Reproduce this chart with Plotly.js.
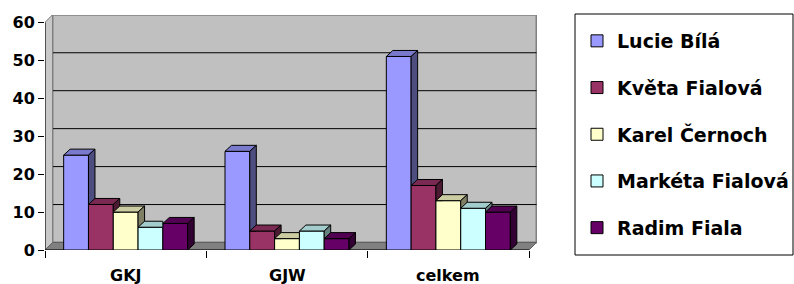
<!DOCTYPE html>
<html><head><meta charset="utf-8">
<script src="https://cdn.plot.ly/plotly-3.0.1.min.js"></script>
<style>html,body{margin:0;padding:0;background:#fff}#chart{width:794px;height:284px}</style>
</head><body><div id="chart"></div>
<script>
// ---------- data ----------
const categories = ['GKJ', 'GJW', 'celkem'];
const seriesNames = ['Lucie Bílá', 'Květa Fialová', 'Karel Černoch', 'Markéta Fialová', 'Radim Fiala'];
const lucieBila = [25, 26, 51];
const kvetaFialova = [12, 5, 17];
const karelCernoch = [10, 3, 13];
const marketaFialova = [6, 5, 11];
const radimFiala = [7, 3, 10];
const yTickVals = [0, 10, 20, 30, 40, 50, 60];

// ---------- style / geometry ----------
const seriesValues = [lucieBila, kvetaFialova, karelCernoch, marketaFialova, radimFiala];
const seriesColors = ['#9999FF', '#993366', '#FFFFCC', '#CCFFFF', '#660066'];
const PLOT_L = 45, PLOT_R = 537, PLOT_T = 15, PLOT_B = 250, FIG_W = 794, FIG_H = 284;
const CAT_PX = (529 - 45) / 3;
const Y_PX = (250 - 22.3) / 60;
const X_MIN = -0.5, X_MAX = X_MIN + (PLOT_R - PLOT_L) / CAT_PX;
const Y_MAX = (PLOT_B - PLOT_T) / Y_PX;
const WALL_DX = 7.5 / CAT_PX, WALL_DY = 7.5 / Y_PX;
const BAR_DX = 6.5 / CAT_PX, BAR_DY = 6 / Y_PX;
const BAR_W = 24.8 / CAT_PX;
const nCat = categories.length;
const AX_END = nCat - 0.5;
const FONT = {family: 'DejaVu Sans', size: 16, color: '#000', weight: 'bold'};

function shade(hex, f) {
  const n = parseInt(hex.slice(1), 16);
  const r = Math.round(((n >> 16) & 255) * f), g = Math.round(((n >> 8) & 255) * f), b = Math.round((n & 255) * f);
  return 'rgb(' + r + ',' + g + ',' + b + ')';
}
function clipHalf(poly, test, cut) {
  const out = [];
  for (let i = 0; i < poly.length; i++) {
    const a = poly[i], b = poly[(i + 1) % poly.length];
    const ain = test(a), bin = test(b);
    if (ain) out.push(a);
    if (ain !== bin) out.push(cut(a, b));
  }
  return out;
}
function clipYAbove(poly, y0) {
  return clipHalf(poly, p => p[1] >= y0, (a, b) => { const t = (y0 - a[1]) / (b[1] - a[1]); return [a[0] + t * (b[0] - a[0]), y0]; });
}
function clipXLeft(poly, x0) {
  return clipHalf(poly, p => p[0] <= x0, (a, b) => { const t = (x0 - a[0]) / (b[0] - a[0]); return [x0, a[1] + t * (b[1] - a[1])]; });
}
function faceTrace(poly, color) {
  const xs = poly.map(p => p[0]), ys = poly.map(p => p[1]);
  xs.push(xs[0]); ys.push(ys[0]);
  return {type: 'scatter', x: xs, y: ys, mode: 'lines', fill: 'toself', fillcolor: color,
    line: {color: '#000', width: 1}, hoverinfo: 'skip', showlegend: false};
}

const traces = [];
const catIdx = categories.map((_, k) => k);
seriesValues.forEach((vals, i) => {
  traces.push({
    type: 'bar', name: seriesNames[i], x: catIdx, y: vals,
    width: BAR_W, offset: -2.5 * BAR_W + i * BAR_W,
    marker: {color: seriesColors[i], line: {color: '#000', width: 1}},
    legendgroup: 'g' + i, hoverinfo: 'skip'
  });
});
// 3D faces (top + side), drawn left to right so nearer bars cover farther ones
catIdx.forEach(c => {
  seriesValues.forEach((vals, i) => {
    const h = vals[c];
    const L = c - 2.5 * BAR_W + i * BAR_W, R = L + BAR_W;
    const hasNext = i < seriesValues.length - 1;
    const hn = hasNext ? seriesValues[i + 1][c] : null;
    let top = [[L, h], [R, h], [R + BAR_DX, h + BAR_DY], [L + BAR_DX, h + BAR_DY]];
    if (hasNext && hn > h) top = clipXLeft(top, R);
    traces.push(faceTrace(top, shade(seriesColors[i], 0.8)));
    let side = [[R, 0], [R + BAR_DX, BAR_DY], [R + BAR_DX, h + BAR_DY], [R, h]];
    if (hasNext) side = clipYAbove(side, hn);
    if (side.length >= 3) traces.push(faceTrace(side, shade(seriesColors[i], 0.5)));
  });
});

const shapes = [];
// back wall
shapes.push({type: 'rect', layer: 'below', xref: 'x', yref: 'y', x0: X_MIN + WALL_DX, x1: AX_END + WALL_DX,
  y0: WALL_DY, y1: 60 + WALL_DY, fillcolor: '#C0C0C0', line: {color: '#808080', width: 2}});
// gridlines on back wall
yTickVals.filter(v => v > 0 && v < 60).forEach(v => {
  shapes.push({type: 'line', layer: 'below', xref: 'x', yref: 'y', x0: X_MIN + WALL_DX, x1: AX_END + WALL_DX,
    y0: v + WALL_DY, y1: v + WALL_DY, line: {color: '#000', width: 1}});
});
// left side wall
shapes.push({type: 'path', layer: 'below', xref: 'x', yref: 'y',
  path: `M${X_MIN},0 L${X_MIN},60 L${X_MIN + WALL_DX},${60 + WALL_DY} L${X_MIN + WALL_DX},${WALL_DY} Z`,
  fillcolor: '#C8C8C8', line: {color: '#808080', width: 1}});
// floor
shapes.push({type: 'path', layer: 'below', xref: 'x', yref: 'y',
  path: `M${X_MIN},0 L${X_MIN + WALL_DX},${WALL_DY} L${AX_END + WALL_DX},${WALL_DY} L${AX_END},0 Z`,
  fillcolor: '#808080', line: {color: '#606060', width: 1}});
// axis lines
shapes.push({type: 'line', layer: 'below', xref: 'x', yref: 'y', x0: X_MIN, x1: X_MIN, y0: 0, y1: 60, line: {color: '#000', width: 1}});
shapes.push({type: 'line', layer: 'below', xref: 'x', yref: 'y', x0: X_MIN, x1: AX_END, y0: 0, y1: 0, line: {color: '#000', width: 1}});
// legend frame
const pw = PLOT_R - PLOT_L, ph = PLOT_B - PLOT_T;
shapes.push({type: 'rect', layer: 'above', xref: 'paper', yref: 'paper',
  x0: (575 - PLOT_L) / pw, x1: (793 - PLOT_L) / pw, y0: (PLOT_B - 255) / ph, y1: (PLOT_B - 14) / ph,
  line: {color: '#000', width: 1}, fillcolor: 'rgba(0,0,0,0)'});

// category labels
const annotations = categories.map((name, k) => ({
  xref: 'x', yref: 'paper', x: k, y: 0, yanchor: 'top', xanchor: 'center', yshift: -14,
  text: name, showarrow: false, font: FONT
}));

const boundaryTicks = catIdx.map(k => k - 0.5).concat([AX_END]);
const layout = {
  width: FIG_W, height: FIG_H,
  margin: {l: PLOT_L, r: FIG_W - PLOT_R, t: PLOT_T, b: FIG_H - PLOT_B, pad: 0},
  paper_bgcolor: '#fff', plot_bgcolor: '#fff',
  barmode: 'overlay', hovermode: false, showlegend: true,
  font: FONT, shapes: shapes, annotations: annotations,
  xaxis: {range: [X_MIN, X_MAX], tickvals: boundaryTicks, ticktext: boundaryTicks.map(() => ''),
    ticks: 'outside', ticklen: 7, tickwidth: 1, tickcolor: '#000',
    showgrid: false, zeroline: false, showline: false, fixedrange: true},
  yaxis: {range: [0, Y_MAX], tickvals: yTickVals, ticks: 'outside', ticklen: 6, tickwidth: 1, tickcolor: '#000',
    showgrid: false, zeroline: false, showline: false, tickfont: FONT, ticklabelstandoff: 0, fixedrange: true},
  legend: {xref: 'container', yref: 'container', x: 577 / FIG_W, y: 1 - 22 / FIG_H, xanchor: 'left', yanchor: 'top',
    bgcolor: 'rgba(0,0,0,0)', borderwidth: 0, font: {family: 'DejaVu Sans', size: 19, color: '#000', weight: 'bold'},
    traceorder: 'grouped', tracegroupgap: 19, maxheight: 280}
};
Plotly.newPlot('chart', traces, layout, {displayModeBar: false, staticPlot: true});
</script></body></html>
